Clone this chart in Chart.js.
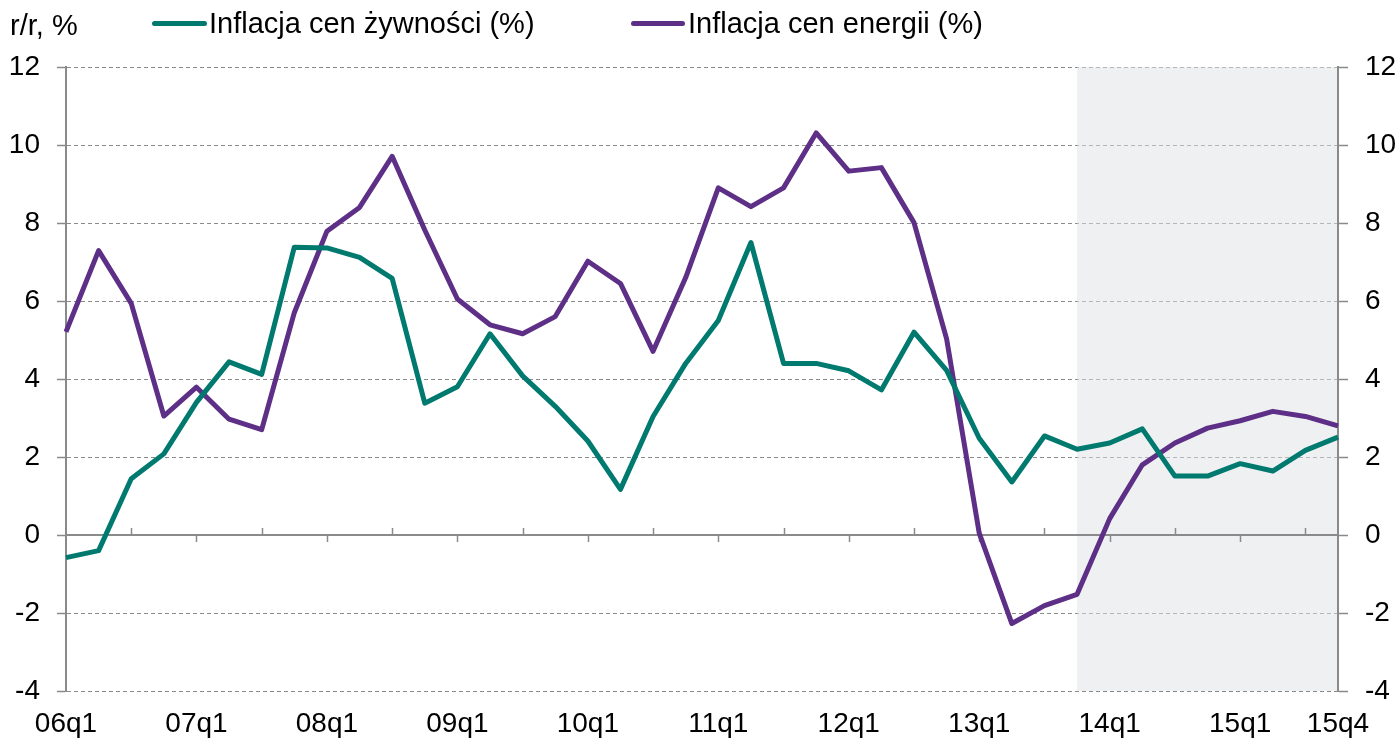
<!DOCTYPE html>
<html>
<head>
<meta charset="utf-8">
<script src="https://cdn.jsdelivr.net/npm/chart.js@4"></script>
<style>
  body { margin: 0; background: #fff; }
  #wrap { position: relative; width: 1396px; height: 741px; font-family: "Liberation Sans", Arial, sans-serif; color: #000; }
  #c { position: absolute; left: 0; top: 0; }
  .lbl { position: absolute; font-size: 29px; line-height: 30px; white-space: nowrap; }
  .swatch { position: absolute; height: 5px; border-radius: 3px; }
</style>
</head>
<body>
<div id="wrap">
  <canvas id="c" width="1396" height="741"></canvas>
  <div class="lbl" style="left:10px; top:10px;">r/r, %</div>
  <div class="swatch" style="left:152px; top:21px; width:55px; background:#00796f;"></div>
  <div class="lbl" style="left:209px; top:8px;">Inflacja cen żywności (%)</div>
  <div class="swatch" style="left:631px; top:21px; width:54px; background:#5e2f86;"></div>
  <div class="lbl" style="left:688px; top:8px;">Inflacja cen energii (%)</div>
</div>
<script>
// quarters 06q1 .. 15q4
const years = ["06", "07", "08", "09", "10", "11", "12", "13", "14", "15"];
const quarters = [];
years.forEach(y => { for (let q = 1; q <= 4; q++) quarters.push(y + "q" + q); });

// y/y, %
const foodInflation = [
  -0.58, -0.40, 1.44, 2.08, 3.40, 4.44, 4.12, 7.38, 7.36, 7.12,
  6.58, 3.38, 3.80, 5.16, 4.08, 3.30, 2.41, 1.17, 3.04, 4.40,
  5.50, 7.50, 4.40, 4.40, 4.21, 3.72, 5.20, 4.22, 2.48, 1.36,
  2.54, 2.20, 2.36, 2.72, 1.51, 1.51, 1.83, 1.64, 2.17, 2.51
];
const energyInflation = [
  5.21, 7.29, 5.94, 3.05, 3.79, 2.97, 2.70, 5.70, 7.79, 8.40,
  9.71, 7.82, 6.05, 5.39, 5.16, 5.60, 7.02, 6.45, 4.71, 6.60,
  8.90, 8.42, 8.90, 10.31, 9.33, 9.42, 8.01, 5.03, 0.05, -2.27,
  -1.81, -1.52, 0.42, 1.80, 2.36, 2.74, 2.93, 3.17, 3.04, 2.80
];
const forecastFrom = "13q4";

const axisGrey = "#8a8a8a";
const tickFont = { family: "'Liberation Sans', Arial, sans-serif", size: 28 };

// shaded forecast band + the zero axis with its small ticks
const bandPlugin = {
  id: "band",
  beforeDatasetsDraw(chart) {
    const { ctx, chartArea: a, scales: { x, y } } = chart;
    const x0 = x.getPixelForValue(quarters.indexOf(forecastFrom));
    ctx.save();
    ctx.fillStyle = "rgba(222,225,230,0.5)";
    ctx.fillRect(x0, a.top, a.right - x0 - 1, a.bottom - a.top);

    const y0 = Math.round(y.getPixelForValue(0));
    ctx.strokeStyle = axisGrey;
    ctx.lineWidth = 2;
    ctx.beginPath();
    ctx.moveTo(a.left, y0);
    ctx.lineTo(a.right, y0);
    ctx.stroke();
    ctx.lineWidth = 1.5;
    for (let i = 2; i < quarters.length; i += 2) {
      const px = Math.round(x.getPixelForValue(i)) + 0.5;
      const dir = i % 4 === 0 ? 1 : -1;
      ctx.beginPath();
      ctx.moveTo(px, y0);
      ctx.lineTo(px, y0 + dir * 7);
      ctx.stroke();
    }
    ctx.restore();
  }
};

new Chart(document.getElementById("c"), {
  type: "line",
  data: {
    labels: quarters,
    datasets: [
      {
        label: "Inflacja cen żywności (%)",
        data: foodInflation,
        borderColor: "#00796f",
        borderWidth: 5,
        pointRadius: 0,
        borderJoinStyle: "round",
        fill: false
      },
      {
        label: "Inflacja cen energii (%)",
        data: energyInflation,
        borderColor: "#5e2f86",
        borderWidth: 5,
        pointRadius: 0,
        borderJoinStyle: "round",
        fill: false
      }
    ]
  },
  options: {
    responsive: false,
    devicePixelRatio: 1,
    animation: false,
    layout: { padding: { top: 67, left: 0, right: 0, bottom: 0 } },
    plugins: { legend: { display: false }, tooltip: { enabled: false } },
    scales: {
      x: {
        grid: { display: false, drawTicks: false },
        border: { display: false },
        ticks: {
          autoSkip: false,
          maxRotation: 0,
          minRotation: 0,
          padding: 16,
          color: "#000",
          font: tickFont,
          callback: (v, i) => (i % 4 === 0 || i === quarters.length - 1) ? quarters[i] : ""
        },
        afterFit(s) { s.height = 50; }
      },
      y: {
        position: "left",
        min: -4,
        max: 12,
        ticks: { stepSize: 2, padding: 17, color: "#000", font: tickFont },
        grid: { color: axisGrey, lineWidth: 1, tickLength: 9, tickColor: axisGrey, tickWidth: 1.5, tickBorderDash: [] },
        border: { color: axisGrey, width: 2, dash: [4, 3] },
        afterFit(s) { s.width = 66; }
      },
      y2: {
        position: "right",
        min: -4,
        max: 12,
        ticks: { stepSize: 2, padding: 17, color: "#000", font: tickFont },
        grid: { drawOnChartArea: false, tickLength: 10, color: axisGrey, tickWidth: 1.5 },
        border: { color: axisGrey, width: 2 },
        afterFit(s) { s.width = 58; }
      }
    }
  },
  plugins: [bandPlugin]
});
</script>
</body>
</html>
